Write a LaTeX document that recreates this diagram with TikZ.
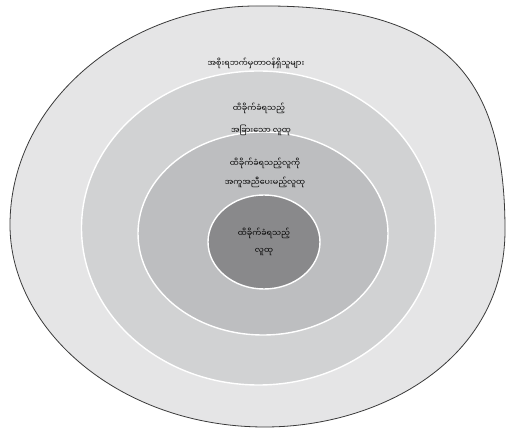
\documentclass[tikz,border=0pt]{standalone}
\usepackage{fontspec}
\newfontfamily\mmfont[Script=Myanmar]{Noto Sans Myanmar UI}
\definecolor{ringA}{HTML}{E5E5E6}
\definecolor{ringB}{HTML}{D1D2D3}
\definecolor{ringC}{HTML}{BDBEC0}
\definecolor{ringD}{HTML}{89898B}
\definecolor{edgeC}{HTML}{3A3A3A}
\tikzset{
  ringline/.style={draw=white, line width=1.4pt},
  lbl/.style={font=\mmfont\fontsize{8}{10}\selectfont, text=black, inner sep=1pt}
}
\begin{document}
\begin{tikzpicture}[x=1pt,y=-1pt]
\useasboundingbox (0,0) rectangle (507,438);
\fill[white] (0,0) rectangle (507,438);
% outer irregular shape
\draw[fill=ringA, draw=edgeC, line width=0.8pt]
  (10,225) .. controls (10,100) and (130,6) .. (256,6)
  .. controls (440,4) and (505,70) .. (505,230)
  .. controls (505,360) and (380,427) .. (265,427)
  .. controls (120,427) and (10,330) .. (10,225) -- cycle;
% rings
\draw[ringline, fill=ringB] (258.5,228) ellipse [x radius=177, y radius=157];
\draw[ringline, fill=ringC] (263,233.5) ellipse [x radius=125, y radius=101.5];
\draw[ringline, fill=ringD] (264,242) ellipse [x radius=56, y radius=47];
% labels
\node[lbl] (t1) at (256,63) {အစိုးရဘက်မှတာဝန်ရှိသူများ};
\node[lbl] (t2a) at (259,108) {ထိခိုက်ခံရသည့်};
\node[lbl] (t2b) at (261,130) {အခြားသော လူထု};
\node[lbl] (t3a) at (265,163) {ထိခိုက်ခံရသည့်လူကို};
\node[lbl] (t3b) at (265,182) {အကူအညီပေးမည့်လူထု};
\node[lbl] (t4a) at (264,233) {ထိခိုက်ခံရသည့်};
\node[lbl] (t4b) at (264,252) {လူထု};
\end{tikzpicture}
\end{document}
